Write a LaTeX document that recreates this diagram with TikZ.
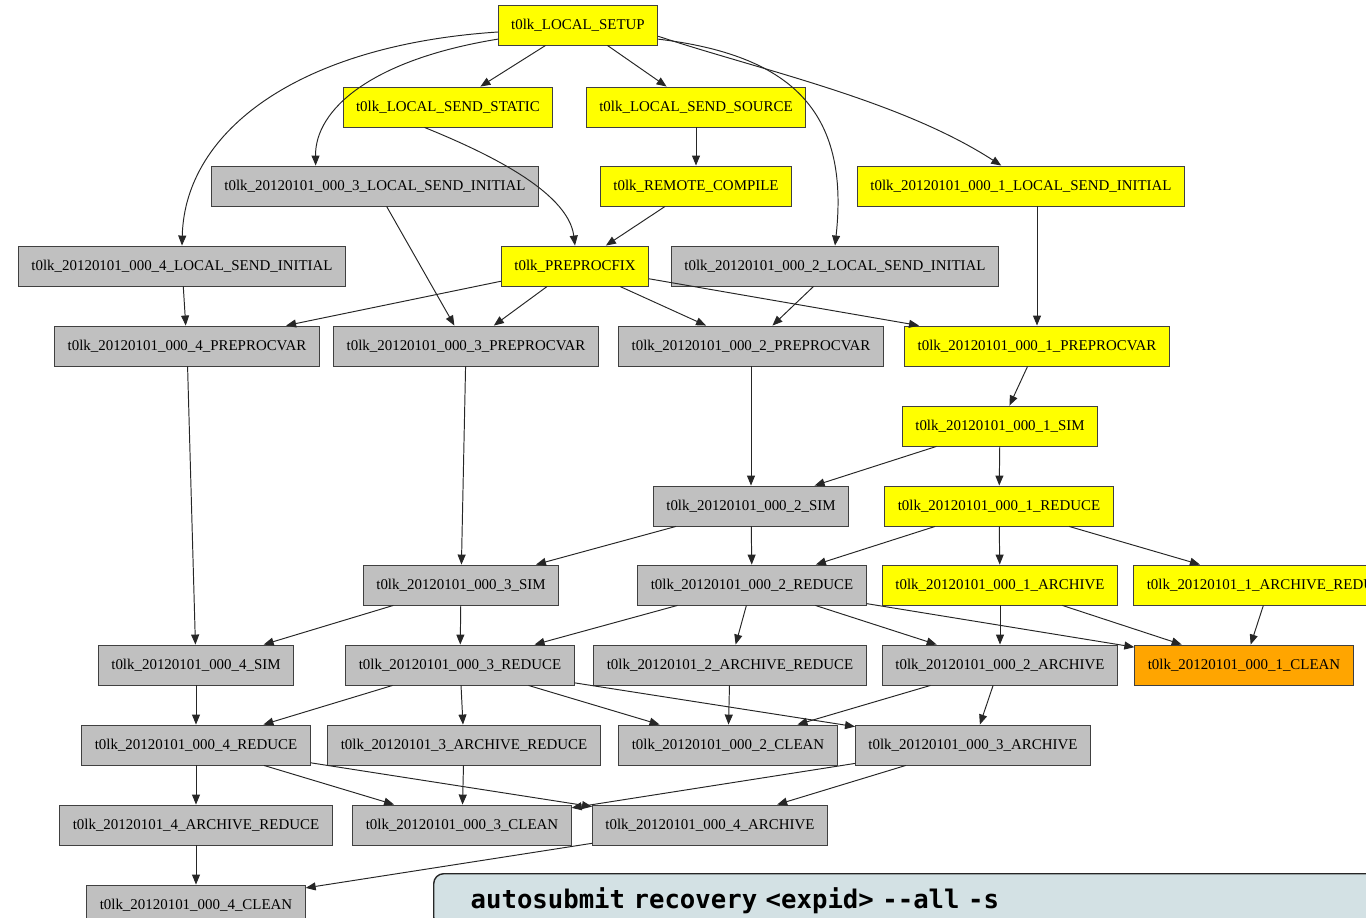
\documentclass[tikz,border=0pt]{standalone}
\usepackage{fontspec}
\setmainfont{Liberation Serif}
\setmonofont{DejaVu Sans Mono}
\usepackage{xcolor}
\usetikzlibrary{arrows.meta,positioning}

\definecolor{jobdone}{HTML}{FFFF00}
\definecolor{jobwait}{HTML}{C0C0C0}
\definecolor{jobnow}{HTML}{FFA500}
\definecolor{cmdfill}{HTML}{D3E1E4}

\begin{document}
\begin{tikzpicture}[x=0.02cm,y=-0.02cm,>={Triangle[length=0.2cm,width=0.16cm]},
  job/.style={draw=black!75,line width=0.5pt,rectangle,minimum height=0.8cm,inner xsep=7.4pt,font=\fontsize{8.5}{10}\selectfont},
  done/.style={job,fill=jobdone},
  wait/.style={job,fill=jobwait},
  now/.style={job,fill=jobnow},
  dep/.style={->,black!85,line width=0.55pt}]
\clip (0,0) rectangle (1366,918);

% jobs, row by row
\node[done] (setup) at (578,25) {t0lk\_LOCAL\_SETUP};
\node[done] (sendstatic) at (448,107) {t0lk\_LOCAL\_SEND\_STATIC};
\node[done] (sendsource) at (696,107) {t0lk\_LOCAL\_SEND\_SOURCE};
\node[wait] (init3) at (375,186) {t0lk\_20120101\_000\_3\_LOCAL\_SEND\_INITIAL};
\node[done] (compile) at (696,186) {t0lk\_REMOTE\_COMPILE};
\node[done] (init1) at (1021,186) {t0lk\_20120101\_000\_1\_LOCAL\_SEND\_INITIAL};
\node[wait] (init4) at (182,266) {t0lk\_20120101\_000\_4\_LOCAL\_SEND\_INITIAL};
\node[done] (prefix) at (575,266) {t0lk\_PREPROCFIX};
\node[wait] (init2) at (835,266) {t0lk\_20120101\_000\_2\_LOCAL\_SEND\_INITIAL};
\node[wait] (pre4) at (187,346) {t0lk\_20120101\_000\_4\_PREPROCVAR};
\node[wait] (pre3) at (466,346) {t0lk\_20120101\_000\_3\_PREPROCVAR};
\node[wait] (pre2) at (751,346) {t0lk\_20120101\_000\_2\_PREPROCVAR};
\node[done] (pre1) at (1037,346) {t0lk\_20120101\_000\_1\_PREPROCVAR};
\node[done] (sim1) at (1000,426) {t0lk\_20120101\_000\_1\_SIM};
\node[wait] (sim2) at (751,506) {t0lk\_20120101\_000\_2\_SIM};
\node[done] (red1) at (999,506) {t0lk\_20120101\_000\_1\_REDUCE};
\node[wait] (sim3) at (461,585) {t0lk\_20120101\_000\_3\_SIM};
\node[wait] (red2) at (752,585) {t0lk\_20120101\_000\_2\_REDUCE};
\node[done] (arch1) at (1000,585) {t0lk\_20120101\_000\_1\_ARCHIVE};
\node[done] (archred1) at (1270,585) {t0lk\_20120101\_1\_ARCHIVE\_REDUCE};
\node[wait] (sim4) at (196,665) {t0lk\_20120101\_000\_4\_SIM};
\node[wait] (red3) at (460,665) {t0lk\_20120101\_000\_3\_REDUCE};
\node[wait] (archred2) at (730,665) {t0lk\_20120101\_2\_ARCHIVE\_REDUCE};
\node[wait] (arch2) at (1000,665) {t0lk\_20120101\_000\_2\_ARCHIVE};
\node[now] (clean1) at (1244,665) {t0lk\_20120101\_000\_1\_CLEAN};
\node[wait] (red4) at (196,745) {t0lk\_20120101\_000\_4\_REDUCE};
\node[wait] (archred3) at (464,745) {t0lk\_20120101\_3\_ARCHIVE\_REDUCE};
\node[wait] (clean2) at (728,745) {t0lk\_20120101\_000\_2\_CLEAN};
\node[wait] (arch3) at (973,745) {t0lk\_20120101\_000\_3\_ARCHIVE};
\node[wait] (archred4) at (196,825) {t0lk\_20120101\_4\_ARCHIVE\_REDUCE};
\node[wait] (clean3) at (462,825) {t0lk\_20120101\_000\_3\_CLEAN};
\node[wait] (arch4) at (710,825) {t0lk\_20120101\_000\_4\_ARCHIVE};
\node[wait] (clean4) at (196,905) {t0lk\_20120101\_000\_4\_CLEAN};

% dependencies
\draw[dep] (setup) -- (sendstatic);
\draw[dep] (setup) -- (sendsource);
\draw[dep] (setup.185) .. controls (300,45) and (185,130) .. (init4.north);
\draw[dep] (setup.190) .. controls (370,60) and (315,110) .. (init3.161);
\draw[dep] (setup.350) .. controls (790,55) and (850,110) .. (init2.north);
\draw[dep] (setup.352) .. controls (760,70) and (900,100) .. (init1.134);
\draw[dep] (sendstatic.221) .. controls (480,150) and (568,190) .. (prefix.north);
\draw[dep] (sendsource) -- (compile);
\draw[dep] (compile) -- (prefix);
\draw[dep] (init3) -- (pre3);
\draw[dep] (init4) -- (pre4);
\draw[dep] (prefix) -- (pre4);
\draw[dep] (prefix) -- (pre3);
\draw[dep] (prefix) -- (pre2);
\draw[dep] (prefix) -- (pre1);
\draw[dep] (init2) -- (pre2);
\draw[dep] (init1.south -| pre1.north) -- (pre1.north);
\draw[dep] (pre1) -- (sim1);
\draw[dep] (pre2) -- (sim2);
\draw[dep] (sim1) -- (sim2);
\draw[dep] (sim1) -- (red1);
\draw[dep] (pre3) -- (sim3);
\draw[dep] (sim2) -- (sim3);
\draw[dep] (sim2) -- (red2);
\draw[dep] (red1) -- (red2);
\draw[dep] (red1) -- (arch1);
\draw[dep] (red1) -- (archred1);
\draw[dep] (pre4) -- (sim4);
\draw[dep] (sim3) -- (sim4);
\draw[dep] (sim3) -- (red3);
\draw[dep] (red2) -- (red3);
\draw[dep] (red2) -- (archred2);
\draw[dep] (red2) -- (arch2);
\draw[dep] (red2) -- (clean1);
\draw[dep] (arch1) -- (arch2);
\draw[dep] (arch1) -- (clean1);
\draw[dep] (archred1) -- (clean1);
\draw[dep] (sim4) -- (red4);
\draw[dep] (red3) -- (red4);
\draw[dep] (red3) -- (archred3);
\draw[dep] (red3) -- (clean2);
\draw[dep] (red3) -- (arch3);
\draw[dep] (archred2) -- (clean2);
\draw[dep] (arch2) -- (clean2);
\draw[dep] (arch2) -- (arch3);
\draw[dep] (red4) -- (archred4);
\draw[dep] (red4) -- (clean3);
\draw[dep] (red4) -- (arch4);
\draw[dep] (archred3) -- (clean3);
\draw[dep] (arch3) -- (clean3);
\draw[dep] (arch3) -- (arch4);
\draw[dep] (archred4) -- (clean4);
\draw[dep] (arch4) -- (clean4);

% command box
\node[draw=black!85,line width=0.8pt,fill=cmdfill,rounded corners=0.2cm,anchor=north west,
  text width=17.92cm,align=left,inner xsep=0.74cm,inner ysep=0.27cm,
  font=\ttfamily\bfseries\fontsize{14.6}{17}\selectfont] (cmd) at (433,873)
  {autosubmit recovery <expid> -{}-all -s};
\end{tikzpicture}
\end{document}
